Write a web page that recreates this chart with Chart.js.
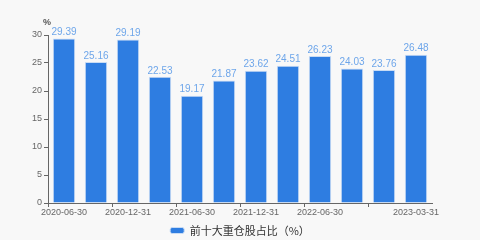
<!DOCTYPE html>
<html>
<head>
<meta charset="utf-8">
<script src="https://cdn.jsdelivr.net/npm/chart.js@4/dist/chart.umd.min.js"></script>
<style>
  html, body { margin: 0; padding: 0; background: #f8f8f8; }
  #wrap { width: 480px; height: 240px; }
</style>
</head>
<body>
<div id="wrap"><canvas id="myChart"></canvas></div>
<script>
const dates = ["2020-06-30", "2020-09-30", "2020-12-31", "2021-03-31", "2021-06-30", "2021-09-30",
    "2021-12-31", "2022-03-31", "2022-06-30", "2022-09-30", "2022-12-31", "2023-03-31"];
const ratio = [29.39, 25.16, 29.19, 22.53, 19.17, 21.87, 23.62, 24.51, 26.23, 24.03, 23.76, 26.48];
const shownLabels = [0, 2, 4, 6, 8, 11];
const yTicks = [0, 5, 10, 15, 20, 25, 30];

// value labels above the bars + the "%" unit over the y axis
const barLabels = {
    id: "barLabels",
    afterDatasetsDraw(chart) {
        const ctx = chart.ctx;
        const meta = chart.getDatasetMeta(0);
        ctx.save();
        ctx.font = "10px 'Liberation Sans', Arial, sans-serif";
        ctx.fillStyle = "#6ea6ea";
        ctx.textAlign = "center";
        ctx.textBaseline = "bottom";
        meta.data.forEach((bar, i) => {
            ctx.fillText(ratio[i].toFixed(2), bar.x, bar.y - 1);
        });
        ctx.fillStyle = "#555";
        ctx.font = "bold 9px 'Liberation Sans', Arial, sans-serif";
        ctx.fillText("%", chart.scales.y.right - 1, chart.chartArea.top - 8);
        ctx.restore();
    },
};

const config = {
    type: "bar",
    data: {
        labels: dates,
        datasets: [
            {
                label: "前十大重仓股占比（%）",
                data: ratio,
                backgroundColor: "#2e7de1",
                borderColor: "#c9dcf4",
                borderWidth: 1,
                barPercentage: 0.7,
                categoryPercentage: 1,
            },
        ],
    },
    options: {
        responsive: true,
        maintainAspectRatio: false,
        animation: false,
        layout: { padding: { top: 35, right: 0, left: 0, bottom: -6 } },
        scales: {
            x: {
                afterFit: (s) => { s.height = 16; },
                grid: {
                    drawOnChartArea: false,
                    drawTicks: true,
                    tickLength: 4,
                    tickColor: (c) => (c.index % 2 === 0 ? "#666" : "rgba(0,0,0,0)"),
                },
                border: { color: "#666" },
                ticks: {
                    autoSkip: false,
                    maxRotation: 0,
                    padding: 0,
                    color: "#666",
                    font: { size: 9, family: "'Liberation Sans', Arial, sans-serif" },
                    callback: (v, i) => (shownLabels.includes(i) ? dates[i] : ""),
                },
            },
            y: {
                min: 0,
                max: 30,
                afterFit: (s) => { s.width = 48; },
                afterBuildTicks: (s) => { s.ticks = yTicks.map((v) => ({ value: v })); },
                grid: { drawOnChartArea: false, tickLength: 4, tickColor: "#666" },
                border: { color: "#666" },
                ticks: {
                    padding: 2,
                    color: "#666",
                    font: { size: 9, family: "'Liberation Sans', Arial, sans-serif" },
                },
            },
            // empty right-hand axis, only to keep the right margin
            yRight: {
                position: "right",
                afterFit: (s) => { s.width = 48; },
                grid: { display: false },
                border: { display: false },
                ticks: { display: false },
            },
        },
        plugins: {
            legend: {
                position: "bottom",
                labels: {
                    boxWidth: 14,
                    boxHeight: 6,
                    useBorderRadius: true,
                    borderRadius: 2,
                    padding: 6,
                    color: "#333",
                    font: { size: 11, family: "'Noto Sans CJK SC', sans-serif" },
                },
            },
            tooltip: { enabled: false },
        },
    },
    plugins: [barLabels],
};

new Chart(document.getElementById("myChart"), config);
</script>
</body>
</html>
